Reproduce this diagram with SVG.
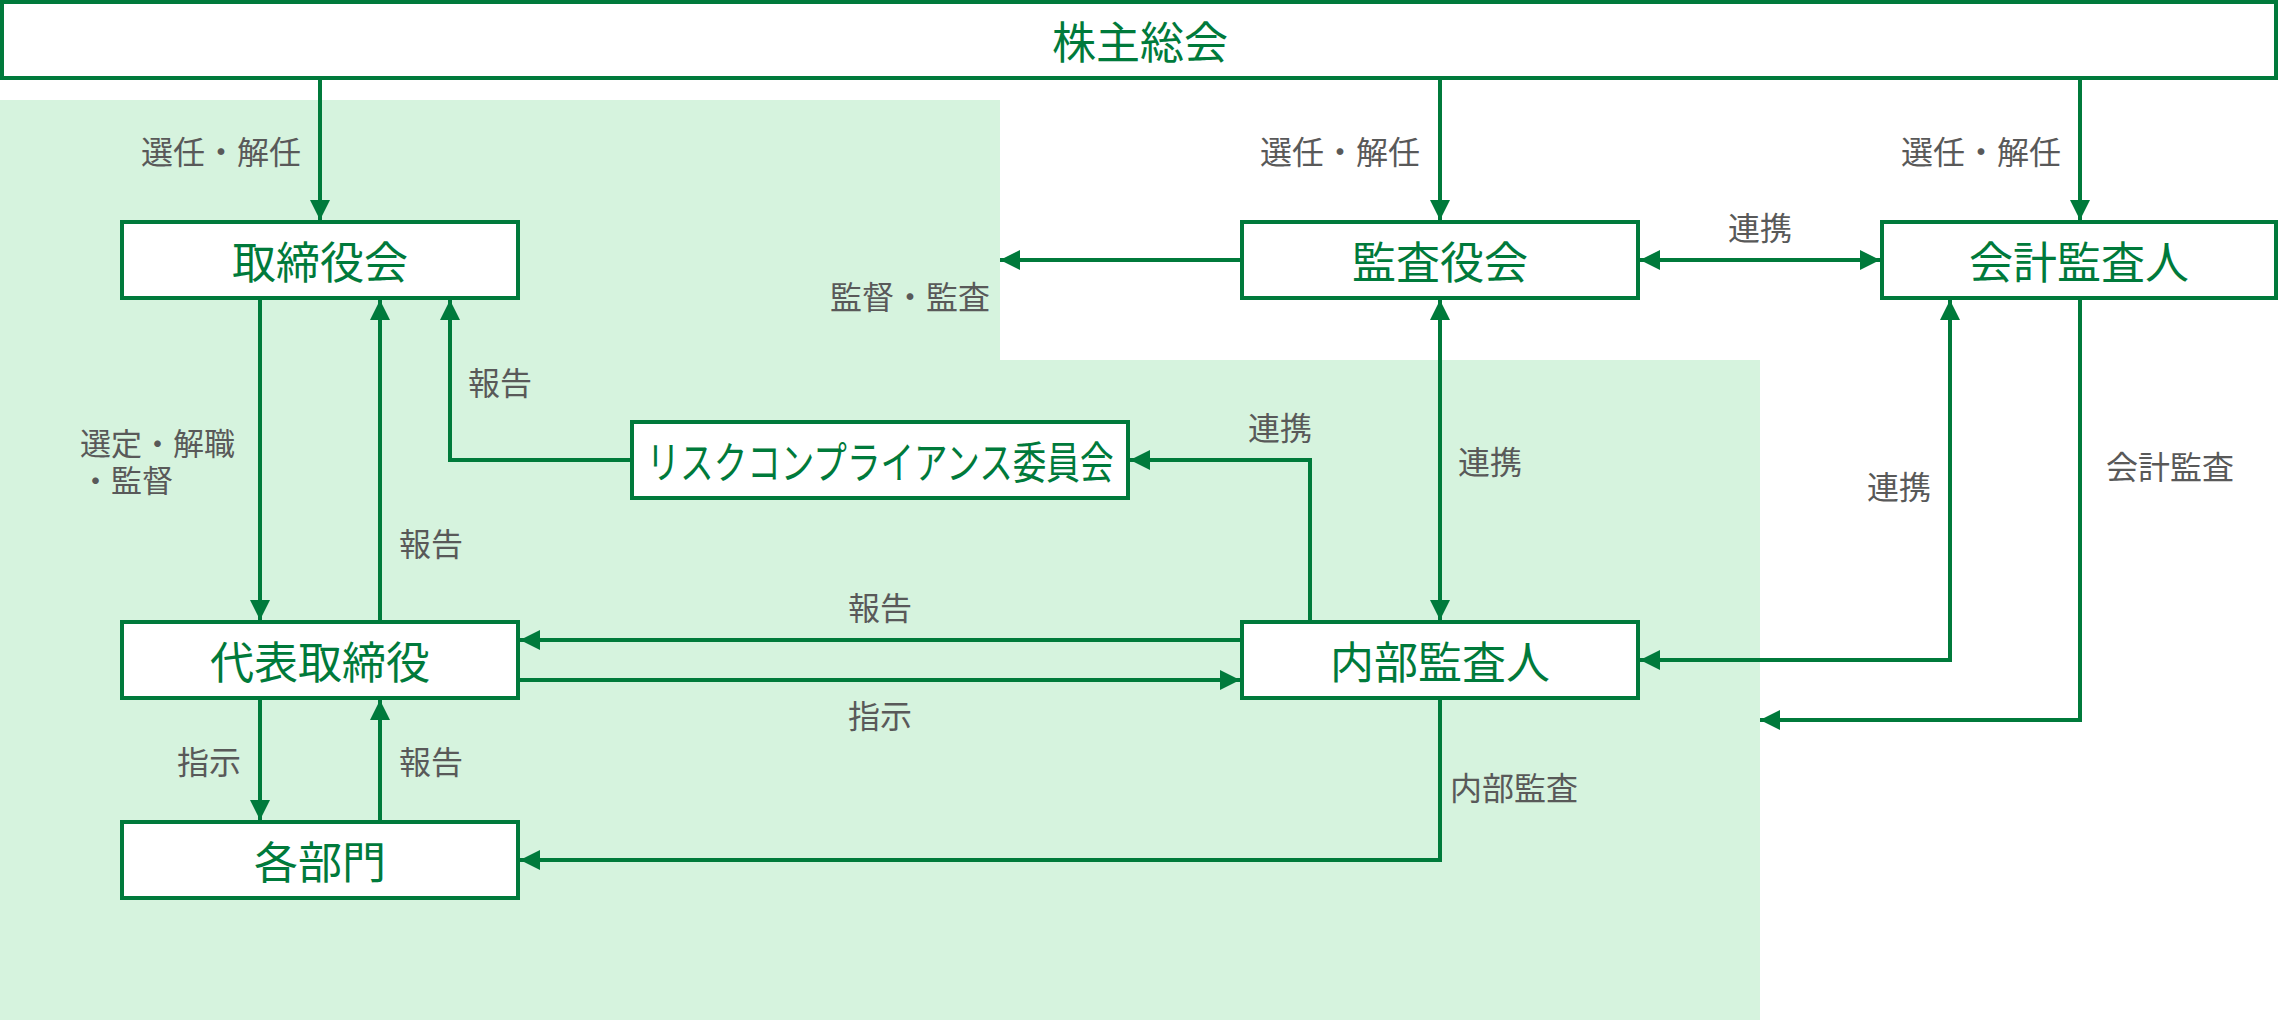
<svg xmlns="http://www.w3.org/2000/svg" width="2280" height="1020" viewBox="0 0 2280 1020">
<style>
.bg{fill:#d6f3de;stroke:none}
.box{fill:#ffffff;stroke:#007a3b;stroke-width:4}
.nt{font-family:"Noto Sans CJK JP","Noto Sans",sans-serif;font-size:44px;fill:#007a3b;text-anchor:middle;dominant-baseline:central}
.lb{font-family:"Noto Sans CJK JP","Noto Sans",sans-serif;font-size:32px;fill:#595959;text-anchor:middle;dominant-baseline:central}
.lbl{text-anchor:start}
.sm{font-size:31px}
.c{fill:none;stroke:#007a3b;stroke-width:4}
.a{marker-end:url(#ah)}
.aa{marker-start:url(#ah);marker-end:url(#ah)}
</style>
<defs>
<marker id="ah" markerUnits="userSpaceOnUse" markerWidth="20" markerHeight="20" refX="20" refY="10" orient="auto-start-reverse" viewBox="0 0 20 20">
<path d="M0,0 L20,10 L0,20 z" fill="#007a3b"/>
</marker>
</defs>
<rect width="2280" height="1020" fill="#ffffff"/>
<polygon class="bg" points="0,100 1000,100 1000,360 1760,360 1760,1020 0,1020"/>

<g id="connectors">
<path class="c a" d="M320,78 L320,220"/>
<path class="c a" d="M1440,78 L1440,220"/>
<path class="c a" d="M2080,78 L2080,220"/>
<path class="c a" d="M1242,260 L1000,260"/>
<path class="c aa" d="M1640,260 L1880,260"/>
<path class="c aa" d="M1440,300 L1440,620"/>
<path class="c aa" d="M1950,300 L1950,660 L1640,660"/>
<path class="c a" d="M2080,298 L2080,720 L1760,720"/>
<path class="c a" d="M1310,622 L1310,460 L1130,460"/>
<path class="c a" d="M632,460 L450,460 L450,300"/>
<path class="c a" d="M260,298 L260,620"/>
<path class="c a" d="M380,622 L380,300"/>
<path class="c a" d="M1242,640 L520,640"/>
<path class="c a" d="M518,680 L1240,680"/>
<path class="c a" d="M260,698 L260,820"/>
<path class="c a" d="M380,822 L380,700"/>
<path class="c a" d="M1440,698 L1440,860 L520,860"/>
</g>

<g id="labels">
<text class="lb" x="221" y="150">選任・解任</text>
<text class="lb" x="1340" y="150">選任・解任</text>
<text class="lb" x="1981" y="150">選任・解任</text>
<text class="lb" x="1760" y="226">連携</text>
<text class="lb" x="910" y="295">監督・監査</text>
<text class="lb" x="500" y="381">報告</text>
<text class="lb lbl sm" x="80" y="441"><tspan x="80" y="441">選定・解職</tspan><tspan x="80" y="478">・監督</tspan></text>
<text class="lb" x="431" y="542">報告</text>
<text class="lb" x="1280" y="426">連携</text>
<text class="lb" x="1490" y="460">連携</text>
<text class="lb" x="1899" y="485">連携</text>
<text class="lb" x="2170" y="465">会計監査</text>
<text class="lb" x="880" y="606">報告</text>
<text class="lb" x="880" y="714">指示</text>
<text class="lb" x="209" y="760">指示</text>
<text class="lb" x="431" y="760">報告</text>
<text class="lb lbl" x="1450" y="786">内部監査</text>
</g>

<g id="n-kabunushi">
<rect class="box" x="2" y="2" width="2274" height="76"/>
<text class="nt" x="1140" y="40">株主総会</text>
</g>
<g id="n-torishimariyakukai">
<rect class="box" x="122" y="222" width="396" height="76"/>
<text class="nt" x="320" y="260">取締役会</text>
</g>
<g id="n-kansayakukai">
<rect class="box" x="1242" y="222" width="396" height="76"/>
<text class="nt" x="1440" y="260">監査役会</text>
</g>
<g id="n-kaikeikansanin">
<rect class="box" x="1882" y="222" width="394" height="76"/>
<text class="nt" x="2079" y="260">会計監査人</text>
</g>
<g id="n-risk">
<rect class="box" x="632" y="422" width="496" height="76"/>
<text class="nt" x="880" y="460" textLength="467" lengthAdjust="spacingAndGlyphs">リスクコンプライアンス委員会</text>
</g>
<g id="n-daihyo">
<rect class="box" x="122" y="622" width="396" height="76"/>
<text class="nt" x="320" y="660">代表取締役</text>
</g>
<g id="n-naibukansanin">
<rect class="box" x="1242" y="622" width="396" height="76"/>
<text class="nt" x="1440" y="660">内部監査人</text>
</g>
<g id="n-kakubumon">
<rect class="box" x="122" y="822" width="396" height="76"/>
<text class="nt" x="320" y="860">各部門</text>
</g>
</svg>
